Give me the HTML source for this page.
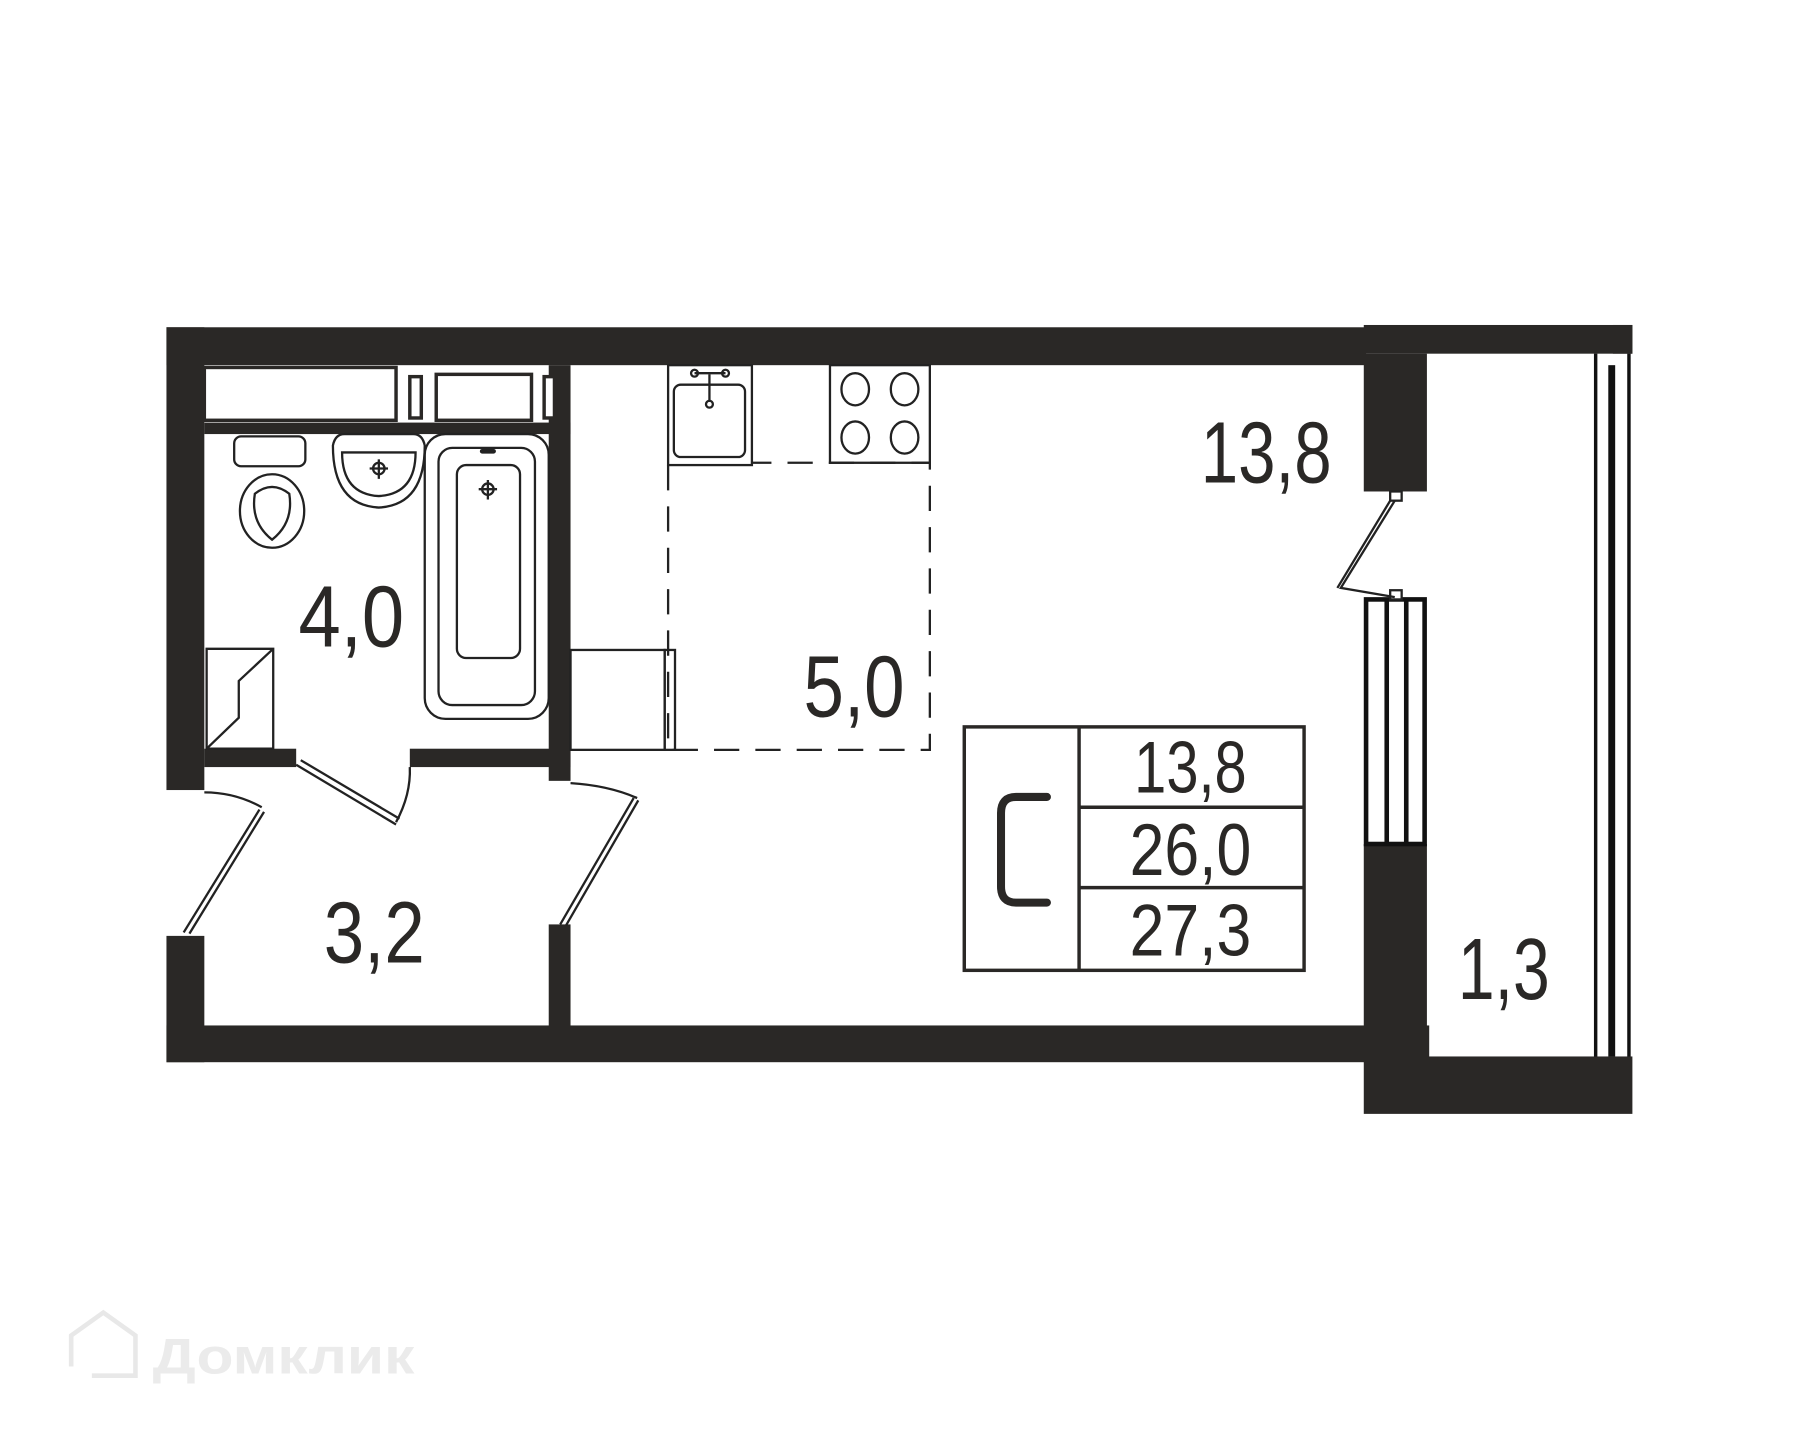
<!DOCTYPE html>
<html><head><meta charset="utf-8"><style>html,body{margin:0;padding:0;background:#fff}svg{display:block}</style></head>
<body>
<svg width="1800" height="1440" viewBox="0 0 1568 1254" preserveAspectRatio="none" xmlns="http://www.w3.org/2000/svg">
<g fill="#2a2826">
<rect x="145" y="285" width="1045" height="33"/>
<rect x="1188" y="283" width="234" height="25"/>
<rect x="1405" y="283" width="17" height="25"/>
<rect x="145" y="285" width="33" height="403"/>
<rect x="145" y="815" width="33" height="110"/>
<rect x="145" y="893" width="1100" height="32"/>
<rect x="1188" y="920" width="234" height="50"/>
<rect x="1188" y="308" width="55" height="120"/>
<rect x="1188" y="735" width="55" height="190"/>
<rect x="178" y="368" width="319" height="10"/>
<rect x="478" y="318" width="19" height="362"/>
<rect x="178" y="652" width="80" height="16"/>
<rect x="357" y="652" width="140" height="16"/>
<rect x="478" y="805" width="19" height="90"/>
</g>
<g fill="#fff" stroke="#2a2826" stroke-width="3">
<rect x="178" y="320" width="167" height="46"/>
<rect x="380" y="326" width="83" height="40"/>
<rect x="357" y="328" width="10" height="36"/>
<rect x="474" y="328" width="9" height="36"/>
</g>
<rect x="1190" y="522" width="51" height="213" fill="#fff" stroke="#111" stroke-width="4"/>
<g stroke="#111" stroke-width="4"><line x1="1208" y1="522" x2="1208" y2="735"/><line x1="1225" y1="522" x2="1225" y2="735"/></g>
<g stroke="#111" stroke-width="3" fill="none">
<line x1="1390" y1="308" x2="1390" y2="920"/>
<line x1="1419" y1="308" x2="1419" y2="920"/>
</g>
<rect x="1401" y="318" width="6" height="602" fill="#111"/>
<g stroke="#222" stroke-width="2" fill="#fff">
<rect x="1211" y="428" width="10" height="8"/>
<rect x="1211" y="514" width="10" height="8"/>
<polyline points="1215,436 1168,512 1215,520" fill="none"/>
<polyline points="1211,436 1165,512" fill="none"/>
</g>
<g fill="none" stroke="#222" stroke-width="2">
<rect x="204" y="380" width="62" height="26" rx="6"/>
<ellipse cx="237" cy="445" rx="28" ry="32"/>
<path d="M222 430 Q237 418 252 430 Q256 455 237 470 Q218 455 222 430Z"/>
<path d="M290 388 Q292 378 300 378 L360 378 Q368 378 370 388 Q370 440 330 442 Q290 440 290 388Z"/>
<path d="M298 394 L362 394 Q362 430 330 432 Q298 430 298 394Z"/>
<rect x="370" y="378" width="108" height="248" rx="18"/>
<rect x="382" y="390" width="84" height="224" rx="12"/>
<rect x="398" y="405" width="55" height="168" rx="8"/>
<path d="M180 565 L238 565 L238 652 L180 652 Z"/>
<polyline points="238,565 208,593 208,625 180,652"/>
<circle cx="330" cy="408" r="5"/><line x1="330" y1="400" x2="330" y2="417"/><line x1="322" y1="408" x2="338" y2="408"/>
<circle cx="425" cy="426" r="5"/><line x1="425" y1="418" x2="425" y2="435"/><line x1="417" y1="426" x2="433" y2="426"/>
</g>
<rect x="418" y="391" width="14" height="4" rx="2" fill="#222"/>
<g fill="none" stroke="#222" stroke-width="2">
<rect x="582" y="318" width="73" height="87"/>
<rect x="587" y="335" width="62" height="63" rx="6"/>
<line x1="618" y1="326" x2="618" y2="350"/><line x1="605" y1="325" x2="632" y2="325"/>
<circle cx="605" cy="325" r="3"/><circle cx="632" cy="325" r="3"/><circle cx="618" cy="352" r="3"/>
<rect x="723" y="318" width="87" height="85"/>
<ellipse cx="745" cy="339" rx="12" ry="14"/><ellipse cx="788" cy="339" rx="12" ry="14"/>
<ellipse cx="745" cy="381" rx="12" ry="14"/><ellipse cx="788" cy="381" rx="12" ry="14"/>
<path d="M582 405 V653 H810 V403 H655" stroke-dasharray="22,14"/>
<rect x="497" y="566" width="82" height="87"/>
<rect x="579" y="566" width="9" height="87"/>
</g>
<g fill="none" stroke="#222" stroke-width="2">
<line x1="258" y1="666" x2="345" y2="718"/><line x1="262" y1="662" x2="348" y2="713"/>
<path d="M345 716 Q358 692 357 668"/>
<line x1="160" y1="812" x2="226" y2="705"/><line x1="165" y1="813" x2="230" y2="707"/>
<path d="M178 690 Q205 690 228 703"/>
<line x1="488" y1="805" x2="552" y2="695"/><line x1="493" y1="806" x2="556" y2="697"/>
<path d="M497 682 Q530 684 555 695"/>
</g>
<g fill="none" stroke="#2a2826" stroke-width="3">
<rect x="840" y="633" width="296" height="212"/>
<line x1="940" y1="633" x2="940" y2="845"/>
<line x1="940" y1="703" x2="1136" y2="703"/>
<line x1="940" y1="773" x2="1136" y2="773"/>
</g>
<path d="M912 694 H885 Q872 694 872 708 V772 Q872 786 885 786 H912" fill="none" stroke="#2a2826" stroke-width="7" stroke-linecap="round"/>
<g font-family="'Liberation Sans Narrow','Liberation Sans',sans-serif" fill="#2a2826" font-size="64">
<text x="988" y="690" textLength="98" lengthAdjust="spacingAndGlyphs">13,8</text>
<text x="984" y="762" textLength="106" lengthAdjust="spacingAndGlyphs">26,0</text>
<text x="984" y="832" textLength="106" lengthAdjust="spacingAndGlyphs">27,3</text>
<text x="1046" y="420" font-size="76" textLength="114" lengthAdjust="spacingAndGlyphs">13,8</text>
<text x="260" y="563" font-size="76" textLength="92" lengthAdjust="spacingAndGlyphs">4,0</text>
<text x="700" y="624" font-size="76" textLength="88" lengthAdjust="spacingAndGlyphs">5,0</text>
<text x="282" y="838" font-size="76" textLength="88" lengthAdjust="spacingAndGlyphs">3,2</text>
<text x="1270" y="870" font-size="76" textLength="80" lengthAdjust="spacingAndGlyphs">1,3</text>
</g>
<g fill="none" stroke="#e8e8e8" stroke-width="4"><path d="M62 1190 V1163 L90 1143 L118 1163 V1198 H80"/></g>
<text x="133" y="1196" font-family="'Liberation Sans',sans-serif" font-weight="bold" font-size="44" fill="#ebebeb" textLength="228" lengthAdjust="spacingAndGlyphs">Домклик</text>
</svg>
</body></html>
